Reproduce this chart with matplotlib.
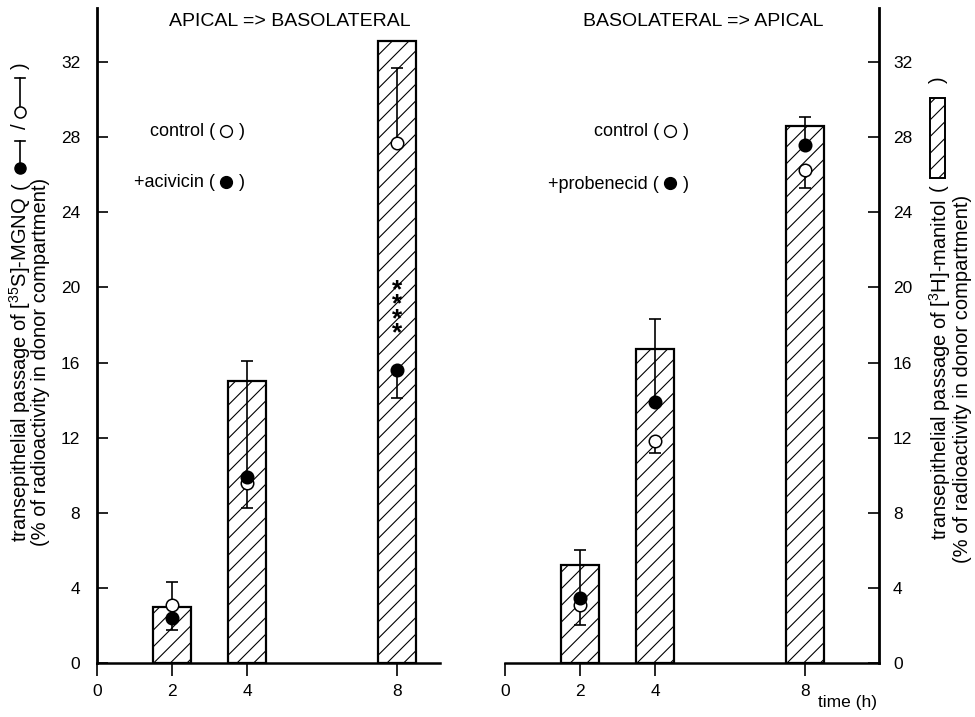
import matplotlib
matplotlib.use('Agg')
import matplotlib.pyplot as plt
from matplotlib.patches import Rectangle
from matplotlib.transforms import offset_copy

plt.rcParams['font.family'] = ['Liberation Sans', 'DejaVu Sans']
plt.rcParams['mathtext.fontset'] = 'custom'
plt.rcParams['mathtext.rm'] = 'Liberation Sans'
plt.rcParams['mathtext.it'] = 'Liberation Sans:italic'
plt.rcParams['hatch.linewidth'] = 0.8
plt.rcParams['hatch.color'] = '0.15'

# tiempos (h) y ticks
times = [2, 4, 8]
xticks = [0, 2, 4, 8]
yticks = [0, 4, 8, 12, 16, 20, 24, 28, 32]

# APICAL => BASOLATERAL
mannitol_ab = [3.0, 15.0, 33.1]
control_ab = [3.1, 9.6, 27.7]
control_ab_lo = [0, 1.35, 0]
control_ab_hi = [1.2, 0, 4.0]
acivicin_ab = [2.4, 9.9, 15.6]
acivicin_ab_lo = [0.65, 0, 1.5]
acivicin_ab_hi = [0, 6.2, 0]

# BASOLATERAL => APICAL
mannitol_ba = [5.2, 16.7, 28.6]
control_ba = [3.1, 11.8, 26.25]
control_ba_lo = [1.1, 0.6, 0.95]
control_ba_hi = [0, 0, 0]
probenecid_ba = [3.45, 13.9, 27.6]
probenecid_ba_lo = [0, 0, 0]
probenecid_ba_hi = [2.55, 4.4, 1.5]

W, H = 975, 717
fig = plt.figure(figsize=(W / 100, H / 100), dpi=100)

ymax = 655 / 18.78
ax1 = fig.add_axes([97 / W, 1 - 663 / H, 343 / W, 655 / H])
ax2 = fig.add_axes([505 / W, 1 - 663 / H, 374 / W, 655 / H])


def one_sided(ax, x, y, lo, hi):
    # solo las barras de error que existen (una por punto)
    for xi, yi, l, h in zip(x, y, lo, hi):
        if l == 0 and h == 0:
            continue
        ax.errorbar([xi], [yi], yerr=[[l], [h]], fmt='none', ecolor='black',
                    elinewidth=1.2, capsize=4.5, capthick=1.2, zorder=2)


def panel(ax, bars, ctrl, ctrl_lo, ctrl_hi, trt, trt_lo, trt_hi, xmax):
    ax.bar(times, bars, width=1.03, color='white', edgecolor='black',
           linewidth=1.6, hatch='//', zorder=1)
    one_sided(ax, times, ctrl, ctrl_lo, ctrl_hi)
    one_sided(ax, times, trt, trt_lo, trt_hi)
    ax.plot(times, ctrl, 'o', ms=9, mfc='white', mec='black', mew=1.1, zorder=4)
    ax.plot(times, trt, 'o', ms=9, mfc='black', mec='black', mew=1.1, zorder=5)
    ax.set_xlim(0, xmax)
    ax.set_ylim(0, ymax)
    ax.set_xticks(xticks)
    ax.set_yticks(yticks)
    ax.spines['top'].set_visible(False)
    ax.spines['bottom'].set_linewidth(1.8)
    ax.tick_params(axis='x', direction='out', length=9, width=1.2, pad=6, labelsize=12.5)
    ax.tick_params(axis='y', direction='in', length=8, width=1.2, labelsize=12.5)


def legend_entry(ax, x, y, label, filled):
    # texto "label ( o )" con el circulo dibujado como marcador
    ax.annotate(')', (x, y), ha='right', va='center', fontsize=13)
    tr = offset_copy(ax.transData, fig=fig, x=-13.5, y=0.5, units='points')
    ax.plot([x], [y], 'o', ms=8.5, mfc='black' if filled else 'white',
            mec='black', mew=1.0, transform=tr, clip_on=False)
    ax.annotate(label + ' (', (x, y), xytext=(-21.5, 0), textcoords='offset points',
                ha='right', va='center', fontsize=13)


panel(ax1, mannitol_ab, control_ab, control_ab_lo, control_ab_hi,
      acivicin_ab, acivicin_ab_lo, acivicin_ab_hi, 9.15)
ax1.spines['right'].set_visible(False)
ax1.spines['left'].set_linewidth(2)
ax1.tick_params(axis='y', pad=12)

panel(ax2, mannitol_ba, control_ba, control_ba_lo, control_ba_hi,
      probenecid_ba, probenecid_ba_lo, probenecid_ba_hi, 9.97)
ax2.spines['left'].set_visible(False)
ax2.spines['right'].set_linewidth(2)
ax2.yaxis.tick_right()
ax2.tick_params(axis='y', pad=10)

# asteriscos
ax1.text(8, 18.7, '*\n*\n*\n*', ha='center', va='center', fontsize=19,
         fontweight='bold', linespacing=0.5)

# leyendas
legend_entry(ax1, 3.95, 28.3, 'control', False)
legend_entry(ax1, 3.95, 25.6, '+acivicin', True)
legend_entry(ax2, 4.9, 28.3, 'control', False)
legend_entry(ax2, 4.9, 25.5, '+probenecid', True)

# capa en pixeles para titulos y etiquetas
ov = fig.add_axes([0, 0, 1, 1])
ov.set_xlim(0, W)
ov.set_ylim(H, 0)
ov.axis('off')

ov.text(290, 22, 'APICAL => BASOLATERAL', ha='center', va='center', fontsize=14)
ov.text(703, 22, 'BASOLATERAL => APICAL', ha='center', va='center', fontsize=14)
ov.text(848, 703, 'time (h)', ha='center', va='center', fontsize=12.5)

fs = 14.5
# eje y izquierdo
ov.text(20, 197, 'transepithelial passage of [$^{35}$S]-MGNQ', rotation=90,
        ha='center', va='top', fontsize=fs)
ov.text(41, 178, '(% of radioactivity in donor compartment)', rotation=90,
        ha='center', va='top', fontsize=fs)
ov.text(20, 186, '(', rotation=90, ha='center', va='center', fontsize=fs)
ov.text(20, 66, ')', rotation=90, ha='center', va='center', fontsize=fs)
ov.text(20, 126, '/', rotation=90, ha='center', va='center', fontsize=fs)
ov.plot([20, 20], [168, 141], color='black', lw=1.2)
ov.plot([15, 25], [141, 141], color='black', lw=1.2)
ov.plot([20], [168], 'o', ms=8, mfc='black', mec='black')
ov.plot([20, 20], [112, 78], color='black', lw=1.2)
ov.plot([15, 25], [78, 78], color='black', lw=1.2)
ov.plot([20], [112], 'o', ms=8, mfc='white', mec='black', mew=1.1)

# eje y derecho
ov.text(940, 200, 'transepithelial passage of [$^{3}$H]-manitol', rotation=90,
        ha='center', va='top', fontsize=fs)
ov.text(962, 195, '(% of radioactivity in donor compartment)', rotation=90,
        ha='center', va='top', fontsize=fs)
ov.text(938, 188, '(', rotation=90, ha='center', va='center', fontsize=fs)
ov.text(938, 80, ')', rotation=90, ha='center', va='center', fontsize=fs)
ov.add_patch(Rectangle((930, 98), 15, 80, facecolor='white', edgecolor='black',
                       linewidth=1.4, hatch='//'))

fig.savefig('out.png', dpi=100)
